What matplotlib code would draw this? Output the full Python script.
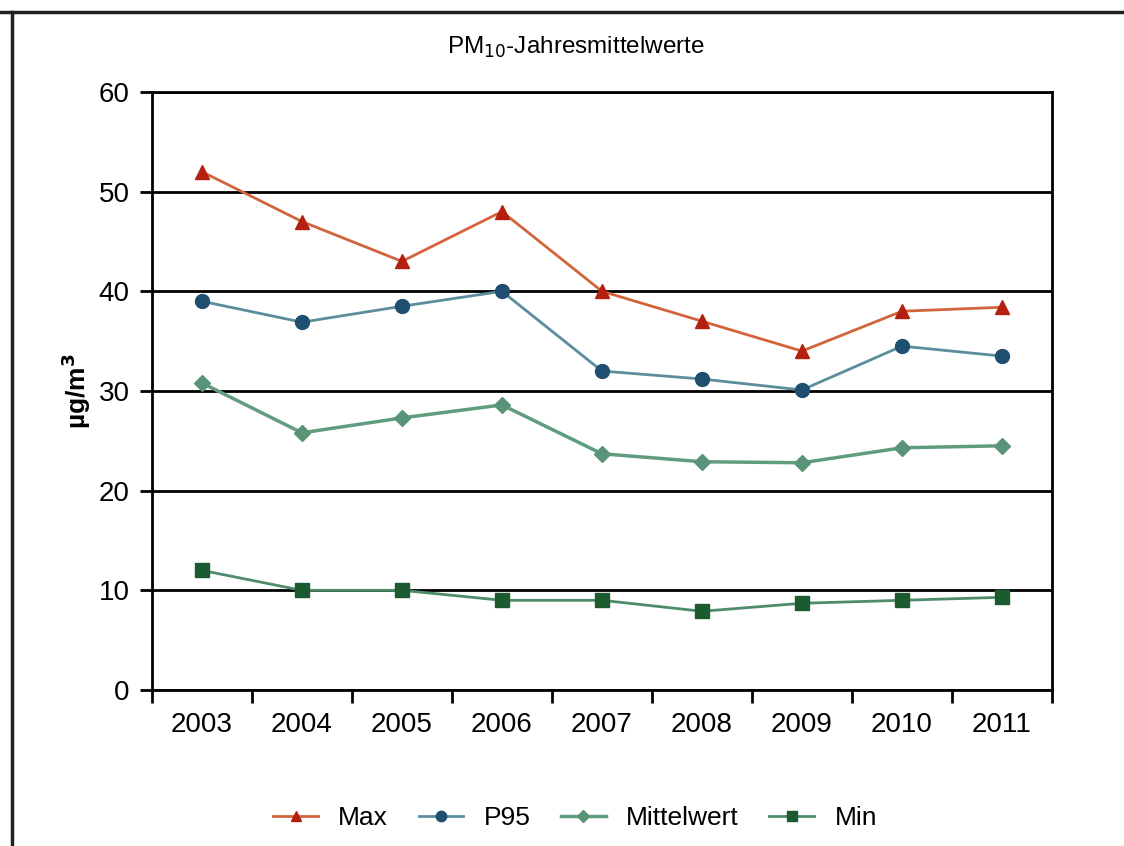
import matplotlib.pyplot as plt
from matplotlib.lines import Line2D

plt.rcParams['font.family'] = ['Liberation Sans', 'DejaVu Sans']

# Daten (PM10-Jahresmittelwerte)
jahre = ['2003', '2004', '2005', '2006', '2007', '2008', '2009', '2010', '2011']
max_werte = [52.0, 47.0, 43.0, 48.0, 40.0, 37.0, 34.0, 38.0, 38.4]
p95_werte = [39.0, 36.9, 38.5, 40.0, 32.0, 31.2, 30.1, 34.5, 33.5]
mittel_werte = [30.8, 25.8, 27.3, 28.6, 23.7, 22.9, 22.8, 24.3, 24.5]
min_werte = [12.0, 10.0, 10.0, 9.0, 9.0, 7.9, 8.7, 9.0, 9.3]

fig = plt.figure(figsize=(11.24, 8.46), dpi=100)
ax = fig.add_axes([0.1352, 0.1844, 0.8007, 0.7069])

x = range(len(jahre))
ax.plot(x, max_werte, color='#d2643c', lw=2, marker='^', ms=10,
        mfc='#b3200f', mec='#b3200f', label='Max', zorder=4)
ax.plot(x, p95_werte, color='#5b8d9c', lw=2, marker='o', ms=10,
        mfc='#1e4f70', mec='#1e4f70', label='P95', zorder=4)
ax.plot(x, mittel_werte, color='#5f9c80', lw=2.5, marker='D', ms=8,
        mfc='#5a9478', mec='#5a9478', label='Mittelwert', zorder=4)
ax.plot(x, min_werte, color='#4f8c6c', lw=2, marker='s', ms=10,
        mfc='#1c5a30', mec='#1c5a30', label='Min', zorder=4)

ax.set_xlim(-0.5, len(jahre) - 0.5)
ax.set_ylim(0, 60)
ax.set_yticks(range(0, 61, 10))
ax.set_xticks(x)
ax.set_xticklabels(jahre)
ax.set_xticks([i - 0.5 for i in range(len(jahre) + 1)], minor=True)
ax.tick_params(axis='x', which='major', length=0, pad=16, labelsize=20)
ax.tick_params(axis='x', which='minor', length=9, width=2, direction='out')
ax.tick_params(axis='y', length=9, width=2, direction='out', labelsize=20, pad=7)

ax.grid(axis='y', color='black', lw=2)
for s in ax.spines.values():
    s.set_linewidth(2)
    s.set_color('black')

ax.set_ylabel('µg/m$^\\mathbf{3}$', fontsize=19, fontweight='bold', labelpad=4)

fig.text(0.512, 0.944, 'PM$_{10}$-Jahresmittelwerte', ha='center', va='center', fontsize=17.5)

handles, labels = ax.get_legend_handles_labels()
fig.legend(handles, labels, loc='center', bbox_to_anchor=(0.5116, 0.033), ncol=4,
           frameon=False, fontsize=19, handlelength=1.7, columnspacing=1.15,
           handletextpad=0.77, markerscale=0.75)

# Rahmen oben und links
fig.add_artist(Line2D([0.0, 1.0], [0.986, 0.986], transform=fig.transFigure, color='#222222', lw=2.5))
fig.add_artist(Line2D([0.011, 0.011], [0.0, 0.986], transform=fig.transFigure, color='#222222', lw=2.5))

fig.savefig('out.png', dpi=100)
